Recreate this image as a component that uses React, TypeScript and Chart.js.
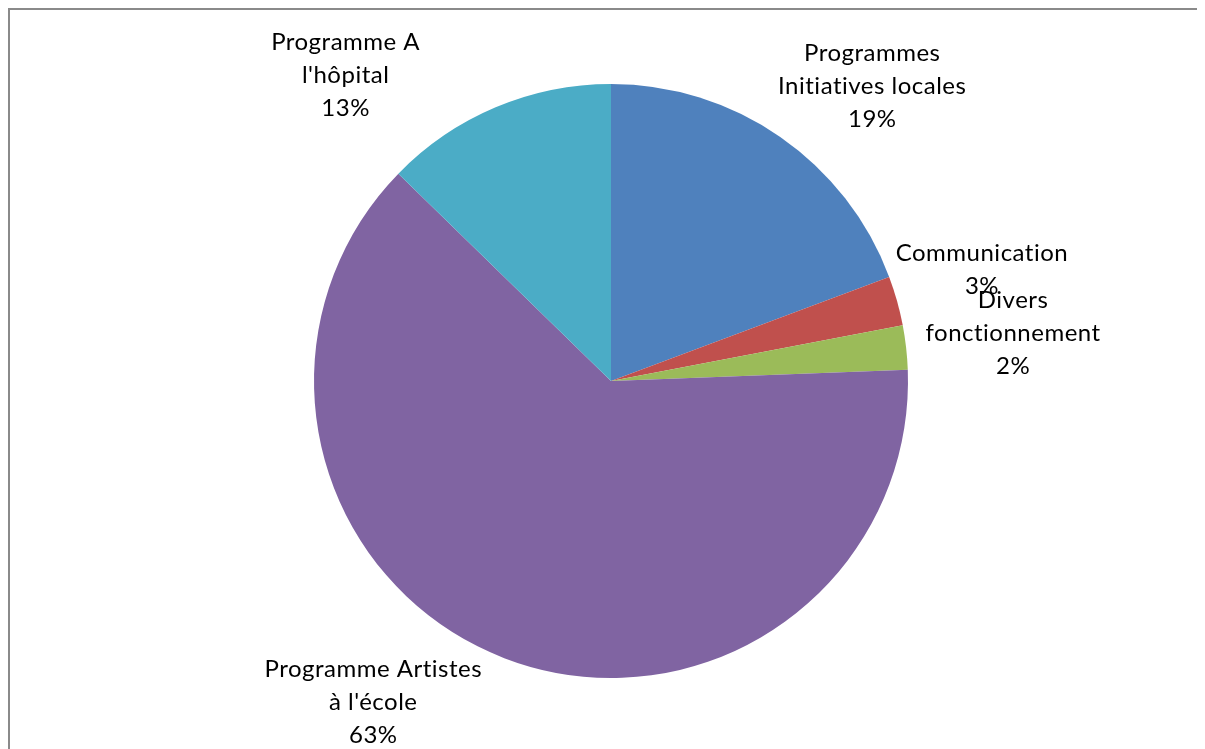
import React, { useEffect, useRef } from "react";
import { Chart, registerables } from "chart.js";

Chart.register(...registerables);

const categories: string[][] = [
  ["Programmes", "Initiatives locales"],
  ["Communication"],
  ["Divers", "fonctionnement"],
  ["Programme Artistes", "à l'école"],
  ["Programme A", "l'hôpital"],
];
const values: number[] = [19.3, 2.7, 2.4, 62.9, 12.7];
const colors: string[] = ["#4F81BD", "#C0504D", "#9BBB59", "#8064A2", "#4BACC6"];
// label centre offsets from the point on the rim at each slice's mid-angle
const labelOffsets: [number, number][] = [
  [92, -51],
  [85, -31],
  [107, -14],
  [-131, 44],
  [-150, -32],
];

const FONT = "Lato, 'Noto Sans', sans-serif";
const FONT_SIZE = 24;
const LINE_H = 33;

const labelPlugin = {
  id: "excelLabels",
  afterDatasetsDraw(chart: any) {
    const ctx = chart.ctx;
    const meta = chart.getDatasetMeta(0);
    const data = chart.data.datasets[0].data as number[];
    const total = data.reduce((a, b) => a + b, 0);
    ctx.save();
    ctx.font = `${FONT_SIZE}px ${FONT}`;
    try {
      (ctx as any).letterSpacing = "0.5px";
    } catch (e) {}
    ctx.fillStyle = "#000";
    ctx.textAlign = "center";
    ctx.textBaseline = "middle";
    meta.data.forEach((arc: any, i: number) => {
      const { x, y, startAngle, endAngle, outerRadius } = arc.getProps(
        ["x", "y", "startAngle", "endAngle", "outerRadius"],
        true
      );
      const mid = (startAngle + endAngle) / 2;
      const ax = x + Math.cos(mid) * outerRadius;
      const ay = y + Math.sin(mid) * outerRadius;
      const [dx, dy] = labelOffsets[i];
      const cx = ax + dx;
      const cy = ay + dy;
      const lines = [...categories[i], `${Math.round((data[i] / total) * 100)}%`];
      const top = cy - ((lines.length - 1) * LINE_H) / 2;
      lines.forEach((l, k) => ctx.fillText(l, cx, top + k * LINE_H));
    });
    ctx.restore();
  },
};

const W = 1215;
const H = 760;

export default function App() {
  const ref = useRef<HTMLCanvasElement | null>(null);
  useEffect(() => {
    document.body.style.overflow = "hidden";
    document.documentElement.style.overflow = "hidden";
    const chart = new Chart(ref.current!, {
      type: "pie",
      data: {
        labels: categories.map((c) => c.join(" ")),
        datasets: [
          {
            data: values,
            backgroundColor: colors,
            borderWidth: 0,
          },
        ],
      },
      options: {
        animation: false,
        responsive: false,
        devicePixelRatio: 1,
        layout: { padding: { left: 304, right: W - 898, top: 74, bottom: H - 668 } },
        plugins: { legend: { display: false }, tooltip: { enabled: false } },
      },
      plugins: [labelPlugin],
    });
    return () => chart.destroy();
  }, []);
  return (
    <div
      style={{
        width: W,
        height: H,
        borderTop: "2px solid #8a8a8a",
        borderLeft: "2px solid #8a8a8a",
        background: "#fff",
      }}
    >
      <canvas ref={ref} width={W} height={H} style={{ display: "block" }} />
    </div>
  );
}
